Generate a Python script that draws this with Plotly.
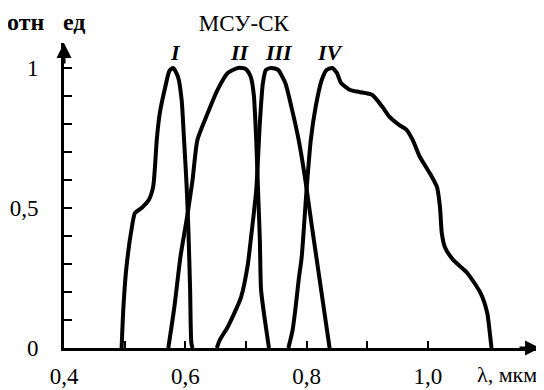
import plotly.graph_objects as go

# Спектральные характеристики каналов МСУ-СК (отн. ед.)
band_names = ["I", "II", "III", "IV"]

wl_1 = [0.495, 0.498, 0.503, 0.512, 0.517, 0.528, 0.540, 0.547, 0.550, 0.553,
        0.558, 0.567, 0.574, 0.580, 0.588, 0.594, 0.598, 0.602, 0.605, 0.608,
        0.610, 0.612]
val_1 = [0.0, 0.146, 0.289, 0.432, 0.482, 0.500, 0.529, 0.575, 0.646, 0.743,
         0.839, 0.932, 0.99, 1.0, 0.968, 0.886, 0.743, 0.589, 0.432, 0.207,
         0.018, 0.0]

wl_2 = [0.572, 0.582, 0.592, 0.603, 0.612, 0.620, 0.637, 0.653, 0.670, 0.687,
        0.700, 0.708, 0.713, 0.717, 0.720, 0.723, 0.725, 0.732, 0.738]
val_2 = [0.0, 0.146, 0.325, 0.468, 0.600, 0.743, 0.839, 0.921, 0.982, 1.0,
         0.996, 0.968, 0.904, 0.743, 0.564, 0.386, 0.207, 0.089, 0.0]

wl_3 = [0.652, 0.657, 0.670, 0.692, 0.703, 0.708, 0.717, 0.723, 0.728, 0.733,
        0.742, 0.753, 0.765, 0.775, 0.787, 0.798, 0.808, 0.820, 0.832, 0.838]
val_3 = [0.0, 0.029, 0.075, 0.182, 0.296, 0.386, 0.564, 0.804, 0.946, 0.993,
         1.0, 0.993, 0.946, 0.861, 0.743, 0.600, 0.446, 0.268, 0.089, 0.0]

wl_4 = [0.770, 0.777, 0.782, 0.787, 0.792, 0.800, 0.807, 0.815, 0.825, 0.833,
        0.842, 0.850, 0.857, 0.872, 0.887, 0.908, 0.925, 0.937, 0.953, 0.965,
        0.975, 0.987, 1.003, 1.015, 1.020, 1.023, 1.028, 1.042, 1.065, 1.087,
        1.098, 1.103, 1.105]
val_4 = [0.0, 0.064, 0.146, 0.243, 0.325, 0.564, 0.743, 0.861, 0.957, 0.993,
         1.0, 0.982, 0.946, 0.921, 0.914, 0.904, 0.861, 0.825, 0.796, 0.779,
         0.743, 0.682, 0.625, 0.575, 0.504, 0.411, 0.361, 0.314, 0.268, 0.196,
         0.125, 0.039, 0.0]

x_tickvals = [0.4, 0.5, 0.6, 0.7, 0.8, 0.9, 1.0]
x_ticktext = ["0,4", "", "0,6", "", "0,8", "", "1,0"]
y_tickvals = [0.0, 0.1, 0.2, 0.3, 0.4, 0.5, 0.6, 0.7, 0.8, 0.9, 1.0]
y_ticktext = ["0", "", "", "", "", "0,5", "", "", "", "", "1"]

SERIF = "Liberation Serif"
TICKFONT = dict(family=SERIF, size=23, color="black")
label_xshift = [2, 2, 8, -2]   # сдвиг подписей каналов, px

fig = go.Figure()
curves = [(wl_1, val_1), (wl_2, val_2), (wl_3, val_3), (wl_4, val_4)]
for name, (wl, val), dx in zip(band_names, curves, label_xshift):
    fig.add_trace(go.Scatter(
        x=wl, y=val, mode="lines", name=name,
        line=dict(color="black", width=4, shape="spline", smoothing=0.6),
        showlegend=False, hoverinfo="skip"
    ))
    # подпись канала над максимумом
    k = val.index(max(val))
    fig.add_annotation(
        x=wl[k], y=1.055, xref="x", yref="y", xshift=dx,
        text="<i><b>" + name + "</b></i>",
        showarrow=False, font=dict(family=SERIF, size=22, color="black")
    )

# страница добавляет отступ 8px у body, поэтому фигура чуть меньше окна
fig.update_layout(
    width=536, height=382,
    margin=dict(l=56, r=4, t=35, b=42, autoexpand=False),
    paper_bgcolor="white", plot_bgcolor="white",
    title=dict(text="МСУ-СК", x=0.440, y=0.961, xanchor="center", yanchor="middle",
               font=dict(family=SERIF, size=23, color="black")),
)

fig.update_xaxes(
    range=[0.4, 1.185], showgrid=False, zeroline=False, automargin=False,
    showline=True, linecolor="black", linewidth=3,
    ticks="inside", ticklen=7, tickwidth=2, tickcolor="black",
    tickvals=x_tickvals, ticktext=x_ticktext, ticklabelstandoff=5,
    tickfont=TICKFONT,
)
fig.update_yaxes(
    range=[0, 1.089], showgrid=False, zeroline=False, automargin=False,
    showline=True, linecolor="black", linewidth=3,
    ticks="inside", ticklen=8, tickwidth=2, tickcolor="black",
    tickvals=y_tickvals, ticktext=y_ticktext, ticklabelstandoff=18,
    tickfont=TICKFONT,
)

# стрелки осей
fig.add_annotation(x=0, y=1, xref="paper", yref="paper", ax=0, ay=22,
                   text="", showarrow=True, arrowhead=2, arrowsize=1, arrowwidth=3,
                   arrowcolor="black")
fig.add_annotation(x=1, y=0, xref="paper", yref="paper", ax=-22, ay=0,
                   text="", showarrow=True, arrowhead=2, arrowsize=1, arrowwidth=3,
                   arrowcolor="black")

# подписи осей
fig.add_annotation(x=-0.08, y=1.069, xref="paper", yref="paper", text="<b>отн</b>",
                   xanchor="center", yanchor="middle",
                   showarrow=False, font=dict(family=SERIF, size=24, color="black"))
fig.add_annotation(x=0.021, y=1.069, xref="paper", yref="paper", text="<b>ед</b>",
                   xanchor="center", yanchor="middle",
                   showarrow=False, font=dict(family=SERIF, size=24, color="black"))
fig.add_annotation(x=0.931, y=-0.0885, xref="paper", yref="paper", text="λ, мкм",
                   xanchor="center", yanchor="middle",
                   showarrow=False, font=dict(family=SERIF, size=22, color="black"))

fig.write_html("out.html")
